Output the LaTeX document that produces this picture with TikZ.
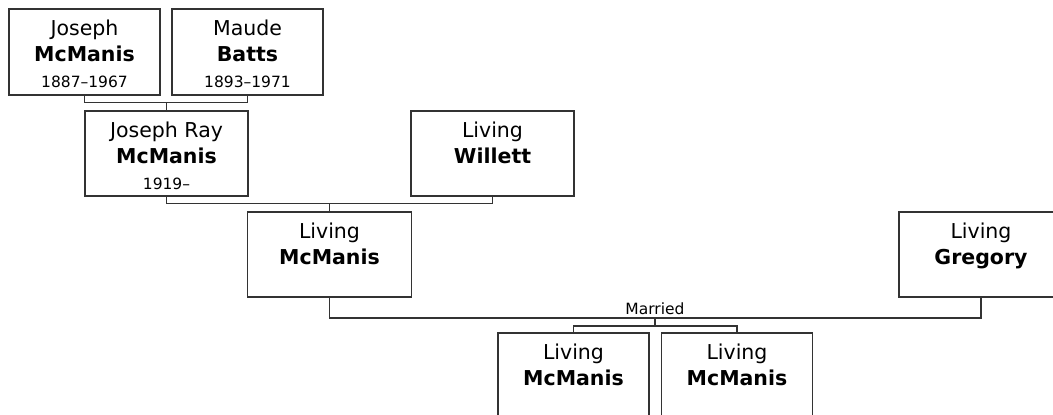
\documentclass[tikz,border=0pt]{standalone}
\usepackage{fontspec}
\setmainfont{DejaVu Sans}
\usetikzlibrary{positioning,calc}
\newcommand{\bigf}{\fontsize{20.5}{26}\selectfont}
\newcommand{\smallf}{\fontsize{15.5}{21}\selectfont}
\newcommand{\person}[3]{\rule{0pt}{25.5pt}#1\\\textbf{#2}\\\smallf\strut #3}
\tikzset{person/.style={draw=black!80,line width=1.1pt,fill=white,minimum height=85pt,inner sep=0pt,align=center,text=black,font=\bigf},link/.style={draw=black!80,line width=1.1pt}}
\begin{document}
\begin{tikzpicture}[x=1pt,y=-1pt]
\useasboundingbox[fill=white](0,0) rectangle (1053,415);
\node[person,minimum width=151pt,minimum height=86pt](jm) at (84.5,52){\person{Joseph}{McManis}{1887--1967}};
\node[person,minimum width=151pt,minimum height=86pt](mb) at (247.5,52){\person{Maude}{Batts}{1893--1971}};
\node[person,minimum width=163pt](jr) at (166.5,153.5){\person{Joseph Ray}{McManis}{1919--}};
\node[person,minimum width=163pt](wi) at (492.5,153.5){\person{Living}{Willett}{}};
\node[person,minimum width=164pt](lm) at (329.5,254.5){\person{Living}{McManis}{}};
\node[person,minimum width=164pt](gr) at (981,254.5){\person{Living}{Gregory}{}};
\node[person,minimum width=151pt](ca) at (573.5,375.5){\person{Living}{McManis}{}};
\node[person,minimum width=151pt](cb) at (737,375.5){\person{Living}{McManis}{}};
\coordinate (jmbar) at (166.5,102.5);
\coordinate (jrbar) at (329.5,203.5);
\coordinate (mar) at (655,318);
\coordinate (kids) at (655,326);
\draw[link](jm.south) |- (jmbar) -| (mb.south);
\draw[link](jmbar) -- (jr.north);
\draw[link](jr.south) |- (jrbar) -| (wi.south);
\draw[link](jrbar) -- (lm.north);
\draw[link](lm.south) |- (mar) -| (gr.south);
\node[anchor=base,inner sep=0pt,font=\smallf](marlbl) at (655,314){Married};
\draw[link](mar) -- (kids);
\draw[link](ca.north) |- (kids) -| (cb.north);
\end{tikzpicture}
\end{document}
